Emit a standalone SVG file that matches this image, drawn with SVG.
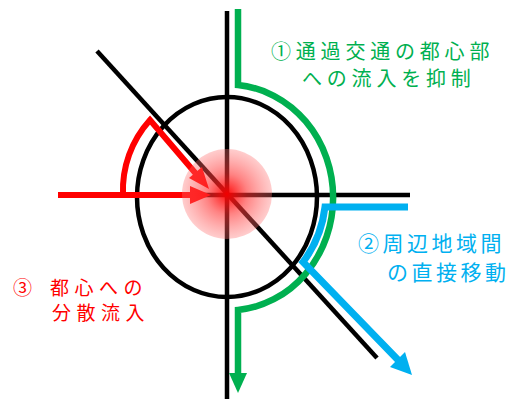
<svg xmlns="http://www.w3.org/2000/svg" width="515" height="399" viewBox="0 0 515 399">
  <defs>
    <radialGradient id="glow" cx="0.5" cy="0.5" r="0.5">
      <stop offset="0" stop-color="#ff0000" stop-opacity="0.95"/>
      <stop offset="0.45" stop-color="#ff3030" stop-opacity="0.6"/>
      <stop offset="1" stop-color="#ff7070" stop-opacity="0.35"/>
    </radialGradient>
  </defs>
  <style>
    .blk { fill: none; stroke: #000; stroke-width: 4.5; }
    .red { fill: none; stroke: #ff0000; stroke-width: 6; stroke-linejoin: miter; }
    .grn { fill: none; stroke: #00b050; stroke-width: 6.5; stroke-linejoin: miter; }
    .blu { fill: none; stroke: #00b0f0; stroke-width: 7; stroke-linejoin: miter; }
    .lbl { font-family: "Noto Sans CJK JP", "Noto Sans CJK SC", sans-serif; font-size: 21px; letter-spacing: 3.5px; }
    .lbl-g { font-size: 20px; letter-spacing: 4.8px; }
    .lbl-r { font-size: 19px; letter-spacing: 5.5px; }
  </style>
  <g id="roads">
    <ellipse class="blk" cx="227" cy="197" rx="90" ry="100"/>
    <line class="blk" x1="227" y1="11" x2="227" y2="399"/>
    <line class="blk" x1="60" y1="195" x2="410" y2="195"/>
    <line class="blk" x1="97" y1="51" x2="377" y2="358"/>
  </g>
  <g id="connectors">
    <g id="green-route">
      <path class="grn" d="M238,9 V85 A105,113 0 0 1 238,310 V376"/>
      <polygon fill="#00b050" points="229,373 247,373 238,393"/>
    </g>
    <g id="blue-route">
      <path class="blu" d="M408,207 H325 A97,107 0 0 1 303,262 L400,362"/>
      <polygon fill="#00b0f0" points="412,375 390,367 405,352"/>
    </g>
    <g id="red-routes">
      <path class="red" d="M58,195 H194"/>
      <polygon fill="#ff0000" points="211,195 190,186 190,204"/>
      <path class="red" d="M123,195 A105,105 0 0 1 150,120 L197,175"/>
      <polygon fill="#ff0000" points="209,189 189,178 202,167"/>
    </g>
  </g>
  <g id="center">
    <circle cx="227" cy="194" r="45" fill="url(#glow)"/>
  </g>
  <g id="label-1">
    <text class="lbl lbl-g" x="271" y="59" fill="#00b050">①通過交通の都心部</text>
    <text class="lbl lbl-g" x="302" y="86" fill="#00b050">への流入を抑制</text>
  </g>
  <g id="label-2">
    <text class="lbl" x="358" y="251" fill="#00b0f0">②周辺地域間</text>
    <text class="lbl" x="387" y="280" fill="#00b0f0">の直接移動</text>
  </g>
  <g id="label-3">
    <text class="lbl lbl-r" y="295" fill="#ff0000"><tspan x="13">③</tspan><tspan x="50">都心への</tspan></text>
    <text class="lbl lbl-r" x="52" y="320" fill="#ff0000">分散流入</text>
  </g>
</svg>
